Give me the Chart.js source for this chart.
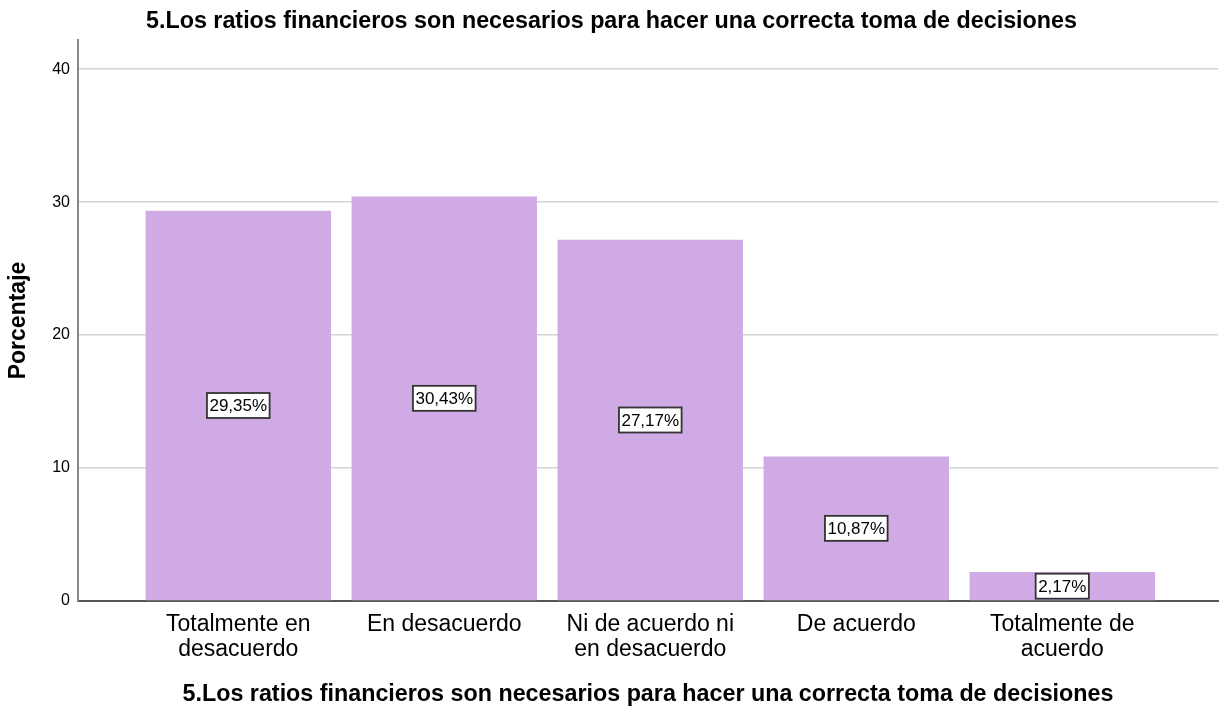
<!DOCTYPE html>
<html>
<head>
<meta charset="utf-8">
<script src="https://cdn.jsdelivr.net/npm/chart.js@4"></script>
<style>
  html, body { margin: 0; padding: 0; background: #fff; }
  #wrap { width: 1219px; height: 708px; }
</style>
</head>
<body>
<div id="wrap"><canvas id="chart"></canvas></div>
<script>
// ── Data ───────────────────────────────────────────────────────────────────────
const TITLE = '5.Los ratios financieros son necesarios para hacer una correcta toma de decisiones';
const categories = [
  ['Totalmente en', 'desacuerdo'],
  ['En desacuerdo'],
  ['Ni de acuerdo ni', 'en desacuerdo'],
  ['De acuerdo'],
  ['Totalmente de', 'acuerdo'],
];
const percentages = [29.35, 30.43, 27.17, 10.87, 2.17];
const yTicks = [0, 10, 20, 30, 40];

const FONT = '"Liberation Sans", Arial, sans-serif';
Chart.defaults.font.family = FONT;
Chart.defaults.color = '#000';

// Boxed percentage label in the middle of each bar
const boxLabels = {
  id: 'boxLabels',
  afterDatasetsDraw(chart) {
    const { ctx } = chart;
    const meta = chart.getDatasetMeta(0);
    ctx.save();
    ctx.font = '17px ' + FONT;
    ctx.textAlign = 'center';
    ctx.textBaseline = 'middle';
    meta.data.forEach((bar, i) => {
      const txt = percentages[i].toFixed(2).replace('.', ',') + '%';
      const cx = bar.x;
      const cy = (bar.y + bar.base) / 2;
      const w = ctx.measureText(txt).width + 5;
      const h = 25;
      ctx.fillStyle = '#fff';
      ctx.fillRect(cx - w / 2, cy - h / 2, w, h);
      ctx.strokeStyle = '#333';
      ctx.lineWidth = 1.8;
      ctx.strokeRect(cx - w / 2, cy - h / 2, w, h);
      ctx.fillStyle = '#000';
      ctx.fillText(txt, cx, cy + 1);
    });
    ctx.restore();
  },
};

new Chart(document.getElementById('chart'), {
  type: 'bar',
  data: {
    datasets: [{
      data: percentages.map((v, i) => ({ x: i, y: v })),
      backgroundColor: '#D0AAE5',
      borderWidth: 0,
      barPercentage: 0.9,
      categoryPercentage: 1,
    }],
  },
  plugins: [boxLabels],
  options: {
    responsive: true,
    maintainAspectRatio: false,
    animation: false,
    layout: { padding: { left: 5, right: 1, top: 0, bottom: 0 } },
    plugins: {
      legend: { display: false },
      tooltip: { enabled: false },
      title: {
        display: true,
        text: TITLE,
        color: '#000',
        font: { size: 23.3, weight: 'bold', lineHeight: 1.2 },
        padding: { top: 8, bottom: 4 },
      },
    },
    scales: {
      x: {
        type: 'linear',
        offset: false,
        min: -0.778,
        max: 4.756,
        afterBuildTicks: s => { s.ticks = categories.map((_, i) => ({ value: i })); },
        ticks: {
          callback: v => categories[v],
          autoSkip: false,
          maxRotation: 0,
          padding: 11,
          color: '#000',
          font: { size: 23, lineHeight: 1.1 },
        },
        grid: { display: false, drawTicks: false },
        border: { color: '#555', width: 2 },
        title: {
          display: true,
          text: TITLE,
          color: '#000',
          font: { size: 23.3, weight: 'bold', lineHeight: 1.1 },
          padding: { top: 8.3, bottom: 0.5 },
        },
      },
      y: {
        min: 0,
        max: 42.2,
        afterBuildTicks: s => { s.ticks = yTicks.map(v => ({ value: v })); },
        afterFit: s => { s.width = 73; },
        ticks: { padding: 8, color: '#000', font: { size: 16 } },
        grid: { color: '#d4d4d4', lineWidth: 1.5, drawTicks: false },
        border: { color: '#888', width: 2 },
        title: {
          display: true,
          text: 'Porcentaje',
          color: '#000',
          font: { size: 23, weight: 'bold', lineHeight: 1.2 },
          padding: { top: 0, bottom: 0 },
        },
      },
    },
  },
});
</script>
</body>
</html>
